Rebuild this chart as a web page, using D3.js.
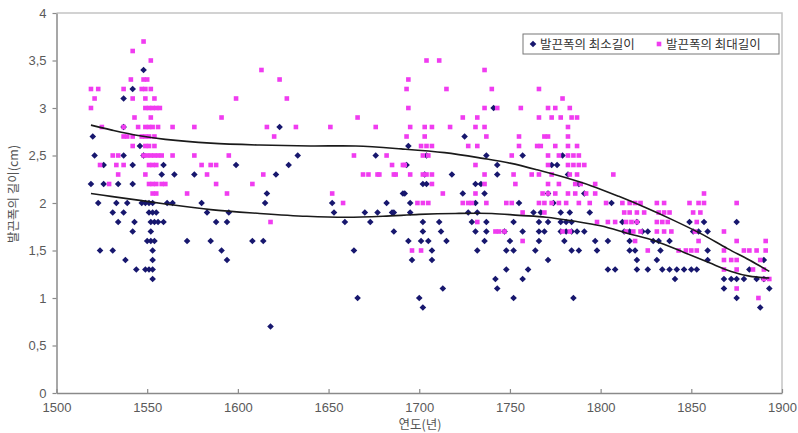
<!DOCTYPE html>
<html><head><meta charset="utf-8">
<script src="https://cdn.jsdelivr.net/npm/d3@7"></script>
<style>body{margin:0;background:#fff}svg{display:block}</style>
</head><body>
<script>
const seriesNames = ["발끈폭의 최소길이", "발끈폭의 최대길이"];
const xTicks = [1500,1550,1600,1650,1700,1750,1800,1850,1900];
const yTicks = [0,0.5,1,1.5,2,2.5,3,3.5,4];
const yTickLabels = ["0","0,5","1","1,5","2","2,5","3","3,5","4"];
const xTitle = "연도(년)";
const yTitle = "발끈폭의 길이(cm)";

// minimum (navy)
const minData = [
[1548,3.4],[1542,3.2],[1537,3.1],[1520,2.7],[1537,2.8],[1546,2.6],[1521,2.5],[1537,2.5],[1548,2.5],[1526,2.4],[1542,2.4],[1559,2.4],[1558,2.3],[1519,2.2],[1526,2.2],[1534,2.2],[1542,2.2],[1523,2.0],[1533,2.0],[1539,2.0],[1547,2.0],[1549,2.0],[1551,2.0],[1553,2.0],[1531,1.9],[1537,1.9],[1551,1.9],[1553,1.9],[1555,1.9],[1534,1.8],[1543,1.8],[1552,1.8],[1554,1.8],[1556,1.8],[1559,1.8],[1542,1.7],[1552,1.7],[1550,1.6],[1552,1.6],[1554,1.6],[1524,1.5],[1531,1.5],[1553,1.5],[1538,1.4],[1553,1.4],[1544,1.3],[1549,1.3],[1551,1.3],[1553,1.3],[1553,1.2],
[1565,2.3],[1576,2.3],[1599,2.4],[1561,2.0],[1564,2.0],[1580,2.0],[1583,1.9],[1595,1.9],[1588,1.8],[1594,1.8],[1572,1.6],[1585,1.6],[1608,1.6],[1591,1.5],[1594,1.4],
[1623,2.8],[1633,2.5],[1628,2.4],[1621,2.3],[1694,2.6],[1676,2.5],[1693,2.4],[1704,2.5],[1703,2.3],[1702,2.2],[1704,2.2],[1616,2.1],[1615,2.0],[1652,2.0],[1682,2.0],[1695,2.0],[1692,2.1],[1653,1.9],[1670,1.9],[1677,1.9],[1685,1.9],[1695,1.9],[1659,1.8],[1673,1.8],[1702,1.8],[1686,1.7],[1702,1.7],[1614,1.6],[1694,1.6],[1701,1.6],[1705,1.6],[1664,1.5],[1696,1.4],[1707,1.4],[1666,1.0],[1700,1.0],[1702,0.9],[1618,0.7],
[1741,3.0],[1725,2.7],[1737,2.5],[1743,2.4],[1718,2.3],[1743,2.3],[1731,2.2],[1734,2.2],[1691,2.1],[1724,2.1],[1736,2.1],[1731,2.0],[1686,1.9],[1727,1.9],[1732,1.9],[1711,1.8],[1729,1.8],[1737,1.8],[1712,1.7],[1731,1.7],[1737,1.7],[1715,1.6],[1736,1.6],[1707,1.5],[1732,1.5],[1748,1.5],[1748,1.3],[1742,1.2],[1713,1.1],[1743,1.1],
[1757,2.5],[1779,2.5],[1773,2.4],[1776,2.4],[1782,2.3],[1788,2.2],[1771,2.1],[1791,2.1],[1755,2.0],[1774,2.0],[1806,2.0],[1763,1.9],[1767,1.9],[1778,1.9],[1783,1.9],[1794,1.9],[1752,1.8],[1766,1.8],[1771,1.8],[1778,1.8],[1781,1.8],[1784,1.8],[1747,1.7],[1757,1.7],[1766,1.7],[1769,1.7],[1778,1.7],[1781,1.7],[1784,1.7],[1787,1.7],[1791,1.7],[1750,1.6],[1766,1.6],[1780,1.6],[1797,1.6],[1804,1.6],[1752,1.5],[1764,1.5],[1784,1.5],[1788,1.5],[1798,1.5],[1771,1.4],[1760,1.3],[1804,1.3],[1808,1.3],[1757,1.2],[1752,1.0],[1785,1.0],
[1812,1.8],[1820,1.8],[1849,1.8],[1857,1.8],[1875,1.8],[1813,1.7],[1816,1.7],[1823,1.7],[1826,1.7],[1851,1.7],[1854,1.7],[1859,1.7],[1816,1.6],[1829,1.6],[1832,1.6],[1838,1.6],[1816,1.5],[1819,1.5],[1833,1.5],[1859,1.5],[1820,1.4],[1831,1.4],[1859,1.4],[1890,1.4],[1820,1.3],[1826,1.3],[1834,1.3],[1838,1.3],[1842,1.3],[1846,1.3],[1850,1.3],[1853,1.3],[1882,1.3],[1841,1.2],[1868,1.2],[1872,1.2],[1875,1.2],[1879,1.2],[1886,1.2],[1890,1.2],[1868,1.1],[1893,1.1],[1875,1.0],[1888,0.9]
];

// maximum (magenta)
const maxData = [
[1519,3.2],[1523,3.2],[1521,3.1],[1519,3.0],[1525,2.8],[1542,3.6],[1548,3.7],[1552,3.5],[1541,3.3],[1537,3.2],[1547,3.2],[1549,3.2],[1552,3.2],[1548,3.3],[1550,3.3],[1542,3.1],[1549,3.1],[1554,3.1],[1549,3.0],[1551,3.0],[1553,3.0],[1555,3.0],[1557,3.0],[1543,2.9],[1552,2.9],[1537,2.8],[1545,2.8],[1549,2.8],[1551,2.8],[1553,2.8],[1556,2.8],[1537,2.7],[1539,2.7],[1542,2.7],[1547,2.7],[1549,2.7],[1551,2.7],[1554,2.7],[1542,2.6],[1549,2.6],[1551,2.6],[1554,2.6],[1531,2.5],[1534,2.5],[1548,2.5],[1550,2.5],[1552,2.5],[1554,2.5],[1556,2.5],[1558,2.5],[1524,2.4],[1533,2.4],[1537,2.4],[1551,2.4],[1553,2.4],[1555,2.4],[1534,2.3],[1549,2.3],[1529,2.2],[1551,2.2],[1553,2.2],[1555,2.2],[1558,2.2],[1553,2.1],[1555,2.1],
[1560,2.2],[1588,2.2],[1608,2.2],[1572,2.1],[1594,2.1],[1564,2.8],[1576,2.8],[1591,2.9],[1599,3.1],[1564,2.5],[1576,2.5],[1595,2.5],[1580,2.4],[1585,2.4],[1588,2.4],[1583,2.3],
[1613,3.4],[1623,3.3],[1627,3.1],[1616,2.8],[1632,2.8],[1651,2.8],[1676,2.8],[1620,2.7],[1666,2.9],[1614,2.3],[1652,2.1],[1658,2.0],[1618,1.8],[1664,2.5],[1682,2.5],[1685,2.4],[1691,2.4],[1669,2.3],[1672,2.3],[1677,2.3],[1686,2.3],
[1704,3.5],[1711,3.5],[1736,3.4],[1694,3.3],[1693,3.2],[1715,3.2],[1740,3.2],[1694,3.0],[1736,3.0],[1743,3.0],[1724,2.9],[1732,2.9],[1695,2.8],[1703,2.8],[1707,2.8],[1717,2.8],[1731,2.8],[1736,2.8],[1693,2.7],[1703,2.7],[1737,2.7],[1701,2.6],[1704,2.6],[1707,2.6],[1727,2.6],[1732,2.6],[1702,2.5],[1705,2.5],[1692,2.4],[1731,2.4],[1678,2.3],[1687,2.3],[1695,2.3],[1702,2.3],[1704,2.3],[1707,2.3],[1736,2.3],[1707,2.2],[1736,2.2],[1713,2.1],[1731,2.1],[1699,2.0],[1702,2.0],[1705,2.0],[1724,2.0],[1727,2.0],[1729,2.0],[1737,2.0],[1732,1.8],[1742,1.7],[1747,1.7],[1696,1.5],[1701,1.5],
[1766,3.2],[1779,3.1],[1756,3.0],[1771,3.0],[1775,3.0],[1783,3.0],[1766,2.9],[1773,2.9],[1778,2.9],[1784,2.9],[1787,2.9],[1782,2.8],[1755,2.7],[1769,2.7],[1771,2.7],[1782,2.7],[1755,2.6],[1765,2.6],[1767,2.6],[1775,2.6],[1782,2.6],[1787,2.6],[1751,2.5],[1771,2.5],[1777,2.5],[1782,2.5],[1785,2.5],[1788,2.5],[1771,2.4],[1782,2.4],[1785,2.4],[1788,2.4],[1791,2.4],[1752,2.3],[1762,2.3],[1766,2.3],[1773,2.3],[1783,2.3],[1787,2.3],[1807,2.3],[1753,2.2],[1771,2.2],[1777,2.2],[1786,2.2],[1789,2.2],[1797,2.2],[1768,2.1],[1771,2.1],[1775,2.1],[1782,2.1],[1786,2.1],[1792,2.1],[1797,2.1],[1748,2.0],[1751,2.0],[1766,2.0],[1769,2.0],[1773,2.0],[1777,2.0],[1781,2.0],[1788,2.0],[1794,2.0],[1803,2.0],[1757,1.9],[1769,1.9],[1744,1.7],[1779,1.7],[1783,1.7],[1798,1.8],[1804,1.8],[1808,1.8],[1757,1.6],
[1857,2.1],[1812,2.0],[1816,2.0],[1819,2.0],[1822,2.0],[1831,2.0],[1835,2.0],[1849,2.0],[1854,2.0],[1857,2.0],[1875,2.0],[1813,1.9],[1816,1.9],[1820,1.9],[1824,1.9],[1832,1.9],[1835,1.9],[1838,1.9],[1851,1.9],[1855,1.9],[1814,1.8],[1817,1.8],[1820,1.8],[1831,1.8],[1834,1.8],[1837,1.8],[1853,1.8],[1814,1.7],[1818,1.7],[1822,1.7],[1831,1.7],[1835,1.7],[1839,1.7],[1852,1.7],[1868,1.7],[1819,1.6],[1854,1.6],[1875,1.6],[1891,1.6],[1826,1.5],[1843,1.5],[1847,1.5],[1850,1.5],[1853,1.5],[1868,1.5],[1879,1.5],[1882,1.5],[1886,1.5],[1891,1.5],[1868,1.4],[1872,1.4],[1875,1.4],[1888,1.4],[1868,1.3],[1875,1.3],[1884,1.3],[1890,1.3],[1890,1.2],[1893,1.2],[1875,1.1],[1887,1.0]
];

// trend lines
const maxTrend = [[1519,2.82],[1530,2.77],[1545,2.71],[1560,2.67],[1585,2.63],[1612,2.61],[1640,2.60],[1665,2.60],[1690,2.57],[1714,2.53],[1735,2.47],[1750,2.42],[1765,2.35],[1780,2.27],[1795,2.18],[1810,2.07],[1825,1.95],[1840,1.82],[1855,1.68],[1870,1.52],[1882,1.40],[1893,1.28]];
const minTrend = [[1519,2.10],[1530,2.07],[1545,2.03],[1560,1.99],[1585,1.93],[1612,1.89],[1638,1.86],[1660,1.85],[1680,1.86],[1700,1.88],[1720,1.89],[1740,1.89],[1755,1.87],[1770,1.85],[1785,1.81],[1800,1.76],[1815,1.68],[1830,1.60],[1846,1.48],[1860,1.37],[1872,1.28],[1882,1.23],[1893,1.21]];

(function(){
const W = 798, H = 433;
const pL = 56.5, pR = 782, pT = 13, pB = 393;
const x = d3.scaleLinear().domain([1500,1900]).range([pL,pR]);
const y = d3.scaleLinear().domain([0,4]).range([pB,pT]);

const svg = d3.select("body").append("svg").attr("width",W).attr("height",H);
svg.append("rect").attr("width",W).attr("height",H).attr("fill","#fff");

svg.append("path").attr("d",`M${pL},${pT}H${pR}V${pB}`).attr("fill","none").attr("stroke","#c4c4c4").attr("stroke-width",1.5);

const tickFont = "'Liberation Sans', Arial, sans-serif";
const krFont = "'Noto Sans CJK KR', 'Noto Sans', sans-serif";

const xAxis = d3.axisBottom(x).tickValues(xTicks).tickSizeInner(-4).tickSizeOuter(0).tickPadding(10).tickFormat(d3.format("d"));
const gx = svg.append("g").attr("transform",`translate(0,${pB})`).call(xAxis);
const yAxis = d3.axisLeft(y).tickValues(yTicks).tickSizeInner(4).tickSizeOuter(0).tickPadding(6).tickFormat((d,i)=>yTickLabels[i]);
const gy = svg.append("g").attr("transform",`translate(${pL},0)`).call(yAxis);
[gx,gy].forEach(g=>{
  g.select(".domain").attr("stroke","#8a8a8a").attr("stroke-width",1.5);
  g.selectAll(".tick line").attr("stroke","#8a8a8a").attr("stroke-width",1.2);
  g.selectAll(".tick text").attr("fill","#5a5a5a").style("font-family",tickFont).style("font-size","13px");
});

svg.append("text").attr("x",420).attr("y",429).attr("text-anchor","middle")
  .style("font-family",krFont).style("font-size","12.5px").attr("fill","#555").text(xTitle);
svg.append("text").attr("transform","translate(18,194) rotate(-90)").attr("text-anchor","middle")
  .style("font-family",krFont).style("font-size","12.5px").attr("fill","#555").text(yTitle);

const navy = "#17176e", mag = "#f03cf0";
const dHalf = 3.3, sq = 4.6;
const diamond = (cx,cy)=>`M${cx},${cy-dHalf}L${cx+dHalf},${cy}L${cx},${cy+dHalf}L${cx-dHalf},${cy}Z`;

svg.append("g").selectAll("path").data(minData).join("path")
  .attr("d",d=>diamond(x(d[0]),y(d[1]))).attr("fill",navy);
svg.append("g").selectAll("rect").data(maxData).join("rect")
  .attr("x",d=>x(d[0])-sq/2).attr("y",d=>y(d[1])-sq/2).attr("width",sq).attr("height",sq).attr("fill",mag);

const line = d3.line().x(d=>x(d[0])).y(d=>y(d[1])).curve(d3.curveCatmullRom.alpha(0.5));
[maxTrend,minTrend].forEach(t=>{
  svg.append("path").attr("d",line(t)).attr("fill","none").attr("stroke","#1a1a1a").attr("stroke-width",1.6);
});

const lg = svg.append("g");
lg.append("rect").attr("x",523).attr("y",34).attr("width",256).attr("height",20).attr("fill","#fff").attr("stroke","#777").attr("stroke-width",1);
lg.append("path").attr("d",diamond(533,44)).attr("fill",navy);
lg.append("text").attr("x",540).attr("y",48.5).style("font-family",krFont).style("font-size","12.5px").attr("fill","#333").text(seriesNames[0]);
lg.append("rect").attr("x",659-sq/2).attr("y",44-sq/2).attr("width",sq).attr("height",sq).attr("fill",mag);
lg.append("text").attr("x",666).attr("y",48.5).style("font-family",krFont).style("font-size","12.5px").attr("fill","#333").text(seriesNames[1]);
})();
</script>
</body></html>
